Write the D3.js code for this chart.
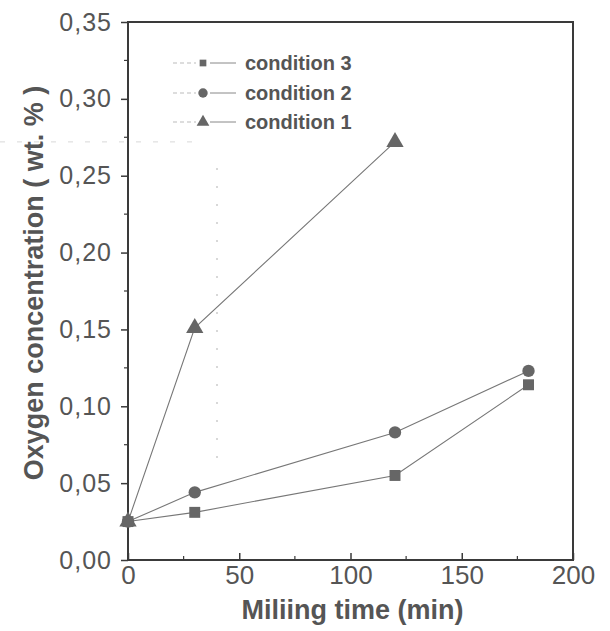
<!DOCTYPE html>
<html><head><meta charset="utf-8">
<script src="https://cdn.jsdelivr.net/npm/d3@7"></script>
<style>body{margin:0;background:#fff}svg{display:block}</style>
</head><body>
<script>
const xTicks = [0, 50, 100, 150, 200];
const yTicks = [0, 0.05, 0.10, 0.15, 0.20, 0.25, 0.30, 0.35];
const cond1X = [0, 30, 120];
const cond1Y = [0.025, 0.151, 0.272];
const cond2X = [0, 30, 120, 180];
const cond2Y = [0.025, 0.044, 0.083, 0.123];
const cond3X = [0, 30, 120, 180];
const cond3Y = [0.025, 0.031, 0.055, 0.114];
const seriesNames = ["condition 3", "condition 2", "condition 1"];

const W = 610, H = 631;
const m = {left: 128, right: 37, top: 22, bottom: 71};
const svg = d3.select("body").append("svg").attr("width", W).attr("height", H)
  .style("font-family", "'Liberation Sans', Arial, sans-serif");
const x = d3.scaleLinear().domain([0, 200]).range([m.left, W - m.right]);
const y = d3.scaleLinear().domain([0, 0.35]).range([H - m.bottom, m.top]);
const fmt = d => d3.format(".2f")(d).replace(".", ",");
const ink = "#3a3a3a";
const txt = "#555";

// faint scan artifacts
svg.append("line").attr("x1", x(40)).attr("x2", x(40)).attr("y1", y(0.255)).attr("y2", y(0.06))
  .attr("stroke", "#ccc").attr("stroke-dasharray", "2,16").attr("stroke-width", 1.5);
svg.append("line").attr("x1", 0).attr("x2", x(30)).attr("y1", y(0.272)).attr("y2", y(0.272))
  .attr("stroke", "#d8d8d8").attr("stroke-dasharray", "5,12").attr("stroke-width", 1);

// frame
svg.append("rect").attr("x", x(0)).attr("y", y(0.35)).attr("width", x(200) - x(0)).attr("height", y(0) - y(0.35))
  .attr("fill", "none").attr("stroke", ink).attr("stroke-width", 2);

// y axis (outward ticks)
const yAxis = svg.append("g").attr("transform", `translate(${x(0)},0)`)
  .call(d3.axisLeft(y).tickValues(yTicks).tickFormat(fmt).tickSize(7).tickPadding(9));
yAxis.select(".domain").remove();
yAxis.selectAll("line").attr("stroke", ink).attr("stroke-width", 1.5);
yAxis.selectAll("text").attr("font-size", 25).attr("letter-spacing", 1).attr("fill", txt);
const yMinor = d3.range(0.025, 0.35, 0.05);
svg.append("g").selectAll("line").data(yMinor).join("line")
  .attr("x1", x(0) - 4).attr("x2", x(0)).attr("y1", d => y(d)).attr("y2", d => y(d))
  .attr("stroke", ink).attr("stroke-width", 1.2);

// x axis (inward ticks)
const xAxis = svg.append("g").attr("transform", `translate(0,${y(0)})`)
  .call(d3.axisBottom(x).tickValues(xTicks).tickSize(-7).tickPadding(6));
xAxis.select(".domain").remove();
xAxis.selectAll("line").attr("stroke", ink).attr("stroke-width", 1.5);
xAxis.selectAll("text").attr("font-size", 26).attr("fill", txt);
const xMinor = [25, 75, 125, 175];
svg.append("g").selectAll("line").data(xMinor).join("line")
  .attr("x1", d => x(d)).attr("x2", d => x(d)).attr("y1", y(0)).attr("y2", y(0) - 4)
  .attr("stroke", ink).attr("stroke-width", 1.2);

// titles
svg.append("text").attr("x", (x(0) + x(200)) / 2 + 2).attr("y", 619).attr("text-anchor", "middle")
  .attr("font-size", 27).attr("font-weight", "bold").attr("fill", txt).text("Miliing time (min)");
svg.append("text").attr("transform", `translate(43,283) rotate(-90)`)
  .attr("text-anchor", "middle").attr("font-size", 27).attr("font-weight", "bold").attr("fill", txt)
  .text("Oxygen concentration ( wt. % )");

const line = d3.line().x(d => x(d[0])).y(d => y(d[1]));
const series = [
  {name: seriesNames[2], pts: d3.zip(cond1X, cond1Y), shape: d3.symbolTriangle, size: 130},
  {name: seriesNames[1], pts: d3.zip(cond2X, cond2Y), shape: d3.symbolCircle, size: 120},
  {name: seriesNames[0], pts: d3.zip(cond3X, cond3Y), shape: d3.symbolSquare, size: 120},
];
series.forEach(s => {
  svg.append("path").attr("d", line(s.pts)).attr("fill", "none").attr("stroke", "#777").attr("stroke-width", 1.1);
});
series.forEach(s => {
  svg.append("g").selectAll("path").data(s.pts).join("path")
    .attr("transform", d => `translate(${x(d[0])},${y(d[1])})`)
    .attr("d", d3.symbol(s.shape, s.size)).attr("fill", "#666");
});

// legend
const legY = [63, 93, 122];
const legOrder = [series[2], series[1], series[0]];
legOrder.forEach((s, i) => {
  const g = svg.append("g").attr("transform", `translate(0,${legY[i]})`);
  g.append("line").attr("x1", 173).attr("x2", 196).attr("stroke", "#bbb").attr("stroke-dasharray", "4,3");
  g.append("line").attr("x1", 210).attr("x2", 236).attr("stroke", "#888");
  g.append("path").attr("transform", "translate(203,0)").attr("d", d3.symbol(s.shape, s.shape === d3.symbolSquare ? 45 : 70)).attr("fill", "#666");
  g.append("text").attr("x", 245).attr("y", 7).attr("font-size", 20).attr("font-weight", "bold").attr("fill", txt).text(s.name);
});
</script>
</body></html>
